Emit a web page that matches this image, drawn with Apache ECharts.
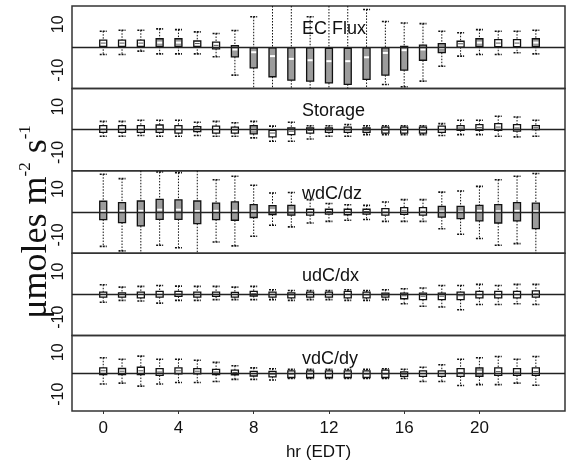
<!DOCTYPE html>
<html>
<head>
    <meta charset="utf-8"/>
    <script src="https://cdn.jsdelivr.net/npm/echarts@6/dist/echarts.min.js"></script>
</head>
<body style="margin:0">
<div id="main" style="width:567px;height:462px;"></div>
<script type="text/javascript">
    // hourly box stats per panel: [min, q1, median, q3, max]
    var hours = [0, 1, 2, 3, 4, 5, 6, 7, 8, 9, 10, 11, 12, 13, 14, 15, 16, 17, 18, 19, 20, 21, 22, 23];
    var panelNames = ['EC Flux', 'Storage', 'wdC/dz', 'udC/dx', 'vdC/dy'];
    var xTicks = [0, 4, 8, 12, 16, 20];
    var yTicks = [-10, 10];

    var ecFlux = [
        [-3.2, 0.4, 1.8, 3.1, 7.0], [-3.2, 0.4, 1.8, 3.1, 7.4], [-1.7, 0.4, 1.8, 3.1, 7.4],
        [-2.9, 0.2, 2.0, 3.7, 8.0], [-2.9, 0.2, 2.0, 3.7, 7.7], [-2.9, 0.4, 1.6, 2.7, 6.7],
        [-4.2, -0.7, 0.8, 2.2, 6.0], [-12.2, -4.2, -1.0, 0.7, 7.3], [-24, -9.0, -2.2, -0.3, 13.3],
        [-24, -12.9, -3.9, -0.3, 25], [-22, -14.4, -5.1, -0.3, 25], [-22, -14.8, -5.7, -0.3, 13.3],
        [-22, -15.6, -6.1, -0.5, 25], [-22, -16.2, -6.1, -0.5, 25], [-18.5, -14.1, -4.4, -0.3, 16.5],
        [-16.3, -12.2, -2.5, -0.3, 11.2], [-17.3, -10.0, -1.3, 0.4, 10.6], [-14.8, -5.7, -1.0, 0.9, 10.3],
        [-8.3, -2.4, -0.3, 1.6, 7.0], [-3.9, 0.0, 1.5, 2.6, 6.3], [-3.2, 0.2, 2.0, 3.7, 7.7],
        [-3.2, 0.2, 1.8, 3.3, 7.0], [-2.4, 0.2, 1.8, 3.3, 7.0], [-2.9, 0.2, 2.0, 3.7, 7.4]
    ];
    var storage = [
        [-2.9, -1.2, 0.2, 1.7, 3.6], [-2.9, -1.2, 0.2, 1.7, 3.6], [-2.6, -1.2, 0.2, 1.7, 4.1],
        [-2.9, -1.2, 0.4, 2.0, 4.1], [-2.9, -1.5, 0.2, 1.7, 4.1], [-2.6, -0.9, 0.4, 1.3, 3.2],
        [-2.9, -1.5, 0.0, 1.5, 3.6], [-2.9, -1.5, -0.2, 1.1, 3.0], [-3.6, -1.9, 0.0, 1.7, 3.6],
        [-5.1, -3.2, -1.5, -0.3, 1.5], [-5.1, -2.2, -0.7, 0.7, 3.2], [-4.1, -1.5, -0.4, 0.7, 1.7],
        [-2.9, -1.2, -0.3, 0.7, 1.7], [-2.9, -1.2, -0.2, 1.1, 2.2], [-2.2, -1.2, -0.3, 0.7, 1.7],
        [-2.2, -1.5, -0.3, 1.1, 1.7], [-2.2, -1.5, -0.3, 1.1, 1.7], [-2.2, -1.5, -0.3, 1.1, 1.7],
        [-2.6, -1.2, 0.0, 1.5, 2.6], [-2.2, -0.3, 0.7, 1.7, 4.1], [-2.2, -0.3, 0.9, 2.2, 4.1],
        [-2.9, -0.3, 1.1, 2.6, 5.8], [-3.2, -0.7, 0.7, 2.2, 5.5], [-2.9, 0.0, 0.8, 1.7, 4.1]
    ];
    var wdCdz = [
        [-15.0, -3.3, 0.4, 4.7, 16.5], [-17.0, -4.6, 0.5, 4.1, 14.6], [-22, -6.1, 0.5, 4.8, 20],
        [-14.5, -3.2, 1.0, 5.5, 17.5], [-15.6, -3.2, 1.0, 5.3, 17.2], [-20, -5.1, 0.4, 4.8, 20],
        [-13.1, -3.3, 0.5, 3.9, 14.1], [-14.8, -3.6, 0.5, 4.4, 15.6], [-10.6, -2.4, 0.3, 3.2, 11.7],
        [-5.8, -1.1, 0.8, 2.8, 8.3], [-6.5, -1.4, 0.6, 2.9, 8.5], [-4.8, -1.4, 0.0, 1.2, 5.4],
        [-4.1, -0.9, 0.2, 1.2, 3.7], [-3.6, -1.2, 0.0, 1.2, 3.2], [-3.3, -0.9, 0.2, 1.2, 2.9],
        [-4.1, -1.4, 0.0, 1.5, 4.4], [-4.1, -1.0, 0.5, 1.9, 5.4], [-4.1, -1.4, 0.3, 1.9, 5.4],
        [-7.3, -2.2, 0.2, 2.5, 8.7], [-9.7, -2.9, 0.1, 2.5, 9.2], [-11.6, -3.9, 0.5, 2.9, 11.2],
        [-14.5, -4.8, 0.3, 3.2, 14.1], [-13.8, -3.9, 0.5, 4.1, 15.6], [-22, -7.3, 0.3, 3.9, 16.8]
    ];
    var udCdx = [
        [-3.4, -1.2, 0.0, 1.0, 4.2], [-2.6, -1.2, 0.0, 0.7, 3.2], [-2.9, -1.5, 0.0, 1.0, 3.5],
        [-3.8, -1.2, 0.0, 1.3, 3.9], [-2.6, -0.9, 0.2, 1.3, 3.6], [-2.6, -1.2, 0.0, 1.0, 3.5],
        [-2.3, -0.9, 0.0, 1.0, 3.5], [-2.3, -1.2, 0.0, 0.9, 3.2], [-2.3, -0.7, 0.3, 1.3, 3.5],
        [-2.3, -1.2, 0.0, 1.0, 2.0], [-2.6, -1.5, -0.2, 0.7, 1.7], [-2.3, -1.2, 0.0, 1.0, 1.7],
        [-2.3, -1.2, 0.0, 1.0, 1.7], [-2.6, -1.5, 0.0, 1.3, 2.0], [-2.6, -1.5, -0.2, 1.0, 1.7],
        [-2.3, -1.2, -0.3, 0.6, 2.0], [-4.1, -1.9, -0.6, 0.6, 2.5], [-5.2, -2.3, -0.8, 0.6, 2.8],
        [-5.5, -2.3, -0.8, 0.6, 3.9], [-6.7, -2.3, -0.6, 1.0, 3.9], [-4.4, -1.5, -0.1, 1.3, 4.4],
        [-4.4, -1.5, -0.1, 1.3, 3.9], [-4.1, -1.5, -0.1, 1.3, 4.4], [-4.4, -1.2, 0.2, 1.5, 4.4]
    ];
    var vdCdy = [
        [-5.1, -0.6, 1.2, 2.6, 7.4], [-4.7, -0.6, 1.0, 2.3, 6.7], [-6.1, -0.6, 1.2, 2.9, 8.2],
        [-5.1, -1.0, 0.6, 2.2, 6.7], [-4.4, -0.3, 1.2, 2.6, 6.7], [-4.4, -0.3, 1.0, 2.2, 6.2],
        [-3.9, -0.6, 0.6, 1.9, 5.2], [-2.9, -0.7, 0.4, 1.5, 3.6], [-2.9, -1.3, -0.2, 0.9, 2.6],
        [-3.2, -1.7, -0.4, 0.9, 2.2], [-2.5, -2.0, -0.4, 1.2, 1.9], [-2.5, -2.0, -0.4, 1.2, 1.9],
        [-2.5, -2.0, -0.4, 1.2, 1.9], [-2.5, -2.0, -0.4, 1.2, 1.9], [-2.5, -2.0, -0.4, 1.2, 1.9],
        [-2.5, -2.0, -0.4, 1.5, 2.2], [-2.5, -1.5, -0.4, 0.7, 1.9], [-3.9, -1.5, -0.2, 1.2, 2.9],
        [-3.9, -1.5, -0.2, 1.2, 4.1], [-5.8, -1.5, 0.4, 2.2, 6.7], [-5.4, -1.5, 0.6, 2.6, 7.4],
        [-5.4, -1.0, 0.8, 2.6, 8.0], [-4.7, -1.0, 0.6, 2.2, 6.7], [-5.7, -1.0, 0.8, 2.6, 8.0]
    ];
    var panels = [ecFlux, storage, wdCdz, udCdx, vdCdy];

    var gridTop = 6, panelH = 82.4;
    var font = 'Liberation Sans';

    function renderBox(params, api) {
        var cs = params.coordSys;
        var yTop = cs.y, yBot = cs.y + cs.height;
        var x = api.value(0);
        var c = function (k) { return api.coord([x, api.value(k)]); };
        var lo = c(1), q1 = c(2), md = c(3), q3 = c(4), hi = c(5);
        var cx = lo[0], half = 3.5;
        var hiY = Math.max(yTop, hi[1]), loY = Math.min(yBot, lo[1]);
        var boxH = q1[1] - q3[1];
        var gray = boxH > 8;
        var dotted = { stroke: '#111', lineWidth: 1, lineDash: [1.5, 1.5] };
        var cap = { stroke: '#111', lineWidth: 1.6, lineDash: [2, 1] };
        var kids = [
            { type: 'line', shape: { x1: cx, y1: hiY, x2: cx, y2: q3[1] }, style: dotted },
            { type: 'line', shape: { x1: cx, y1: q1[1], x2: cx, y2: loY }, style: dotted }
        ];
        if (hi[1] > yTop) kids.push({ type: 'line', shape: { x1: cx - half, y1: hi[1], x2: cx + half, y2: hi[1] }, style: cap });
        if (lo[1] < yBot) kids.push({ type: 'line', shape: { x1: cx - half, y1: lo[1], x2: cx + half, y2: lo[1] }, style: cap });
        kids.push({ type: 'rect', shape: { x: cx - half, y: q3[1], width: half * 2, height: boxH },
            style: { fill: gray ? '#9c9c9c' : '#fff', stroke: '#111', lineWidth: 1.3 } });
        kids.push({ type: 'line', shape: { x1: cx - half + 1, y1: md[1], x2: cx + half - 1, y2: md[1] },
            style: { stroke: gray ? '#fff' : '#555', lineWidth: gray ? 2 : 1 } });
        return { type: 'group', children: kids };
    }

    var grids = [], xAxes = [], yAxes = [], series = [], titles = [];
    panels.forEach(function (arr, i) {
        var last = i === panels.length - 1;
        grids.push({ left: 72, right: 2, top: gridTop + i * panelH, height: panelH,
            show: true, borderColor: '#333', borderWidth: 1.5, backgroundColor: 'transparent' });
        xAxes.push({
            type: 'value', gridIndex: i, min: -1.66, max: 24.55, show: last,
            axisLine: { show: false, onZero: false },
            axisTick: { show: last, length: 3, customValues: xTicks, lineStyle: { color: '#333' } },
            axisLabel: { show: last, customValues: xTicks, fontSize: 17, fontFamily: font, color: '#111', margin: 9 },
            splitLine: { show: false },
            name: last ? 'hr (EDT)' : '', nameLocation: 'middle', nameGap: 33,
            nameTextStyle: { fontSize: 17, fontFamily: font, color: '#111' }
        });
        yAxes.push({
            type: 'value', gridIndex: i, min: -18, max: 18,
            axisLine: { show: false }, axisTick: { show: false }, splitLine: { show: false },
            axisLabel: { customValues: yTicks, rotate: 90, fontSize: 16, fontFamily: font, color: '#111', margin: 5 }
        });
        titles.push({ text: panelNames[i], left: 302, top: gridTop + i * panelH + 14, padding: 0,
            textStyle: { fontSize: 18, fontWeight: 'normal', fontFamily: font, color: '#111' } });
        series.push({
            type: 'custom', xAxisIndex: i, yAxisIndex: i,
            data: hours.map(function (h, j) { return [h].concat(arr[j]); }),
            encode: { x: 0, y: [1, 2, 3, 4, 5] },
            renderItem: renderBox,
            markLine: { silent: true, symbol: 'none', label: { show: false },
                lineStyle: { color: '#222', width: 1.3, type: 'solid' }, data: [{ yAxis: 0 }] }
        });
    });

    var myChart = echarts.init(document.getElementById('main'));
    myChart.setOption({
        animation: false,
        title: titles,
        grid: grids,
        xAxis: xAxes,
        yAxis: yAxes,
        series: series,
        graphic: [{
            type: 'text', x: 35, y: 222, rotation: Math.PI / 2,
            style: {
                text: '{a|μmoles m}{s|-2}{a| s}{s|-1}',
                align: 'center', verticalAlign: 'middle', fill: '#111',
                rich: {
                    a: { fontSize: 36, fontFamily: 'Liberation Serif', lineHeight: 40, verticalAlign: 'bottom' },
                    s: { fontSize: 17, fontFamily: 'Liberation Serif', lineHeight: 40, verticalAlign: 'top', padding: [2, 0, 0, 0] }
                }
            }
        }]
    });
</script>
</body>
</html>
